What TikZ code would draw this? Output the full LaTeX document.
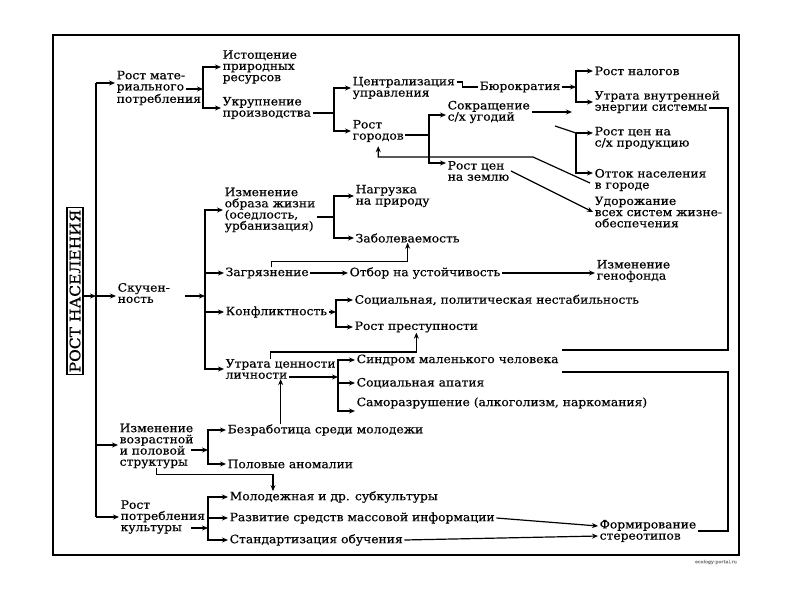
\documentclass[tikz,border=0pt]{standalone}
\usepackage{fontspec}
\setmainfont{DejaVu Serif}[FakeStretch=1.07,FakeBold=0.5]
\usetikzlibrary{arrows.meta,calc}
\begin{document}
\begin{tikzpicture}[x=1pt,y=-1pt,
  t/.style={anchor=west,align=left,inner xsep=1.5pt,inner ysep=0pt,font=\fontsize{11.5}{11.2}\selectfont},
  ln/.style={line width=1.2pt},
  arr/.style={ln,-{Stealth[length=6pt,width=5pt]}},
]
\useasboundingbox (0,0) rectangle (800,600);
\draw[ln] (53,35) rectangle (739,555);

% nodes
\node[draw,rotate=90,line width=1.2pt,inner xsep=2pt,inner ysep=2.5pt,font=\fontsize{14.5}{15}\selectfont] (rn) at (75,291) {РОСТ НАСЕЛЕНИЯ};
\node[t] (rm) at (115,88) {Рост мате-\\риального\\потребления};
\node[t] (ist) at (221,67) {Истощение\\природных\\ресурсов};
\node[t] (ukr) at (221,108) {Укрупнение\\производства};
\node[t] (cen) at (351,88) {Централизация\\управления};
\node[t] (rg) at (351,131) {Рост\\городов};
\node[t] (bur) at (478,87) {Бюрократия};
\node[t] (nal) at (593,71) {Рост налогов};
\node[t] (utr) at (593,102) {Утрата внутренней\\энергии системы};
\node[t] (sok) at (446,112) {Сокращение\\с/х угодий};
\node[t] (rcz) at (446,171) {Рост цен\\на землю};
\node[t] (rcp) at (593,138) {Рост цен на\\с/х продукцию};
\node[t] (ott) at (593,180) {Отток населения\\в городе};
\node[t] (udo) at (593,212) {Удорожание\\всех систем жизне-\\обеспечения};
\node[t] (sku) at (116,293) {Скучен-\\ность};
\node[t] (iob) at (223,210) {Изменение\\образа жизни\\(оседлость,\\урбанизация)};
\node[t] (nag) at (354,196) {Нагрузка\\на природу};
\node[t] (zab) at (354,238) {Заболеваемость};
\node[t] (zag) at (224,273) {Загрязнение};
\node[t] (otb) at (348,273) {Отбор на устойчивость};
\node[t] (gen) at (595,271) {Изменение\\генофонда};
\node[t] (kon) at (224,312) {Конфликтность};
\node[t] (soc) at (353,300) {Социальная, политическая нестабильность};
\node[t] (pre) at (353,327) {Рост преступности};
\node[t] (utc) at (224,369) {Утрата ценности\\личности};
\node[t] (sin) at (355,360) {Синдром маленького человека};
\node[t] (apa) at (355,383) {Социальная апатия};
\node[t] (sam) at (355,403) {Саморазрушение (алкоголизм, наркомания)};
\node[t] (vz) at (118,446) {Изменение\\возрастной\\и половой\\структуры};
\node[t] (bez) at (226,430) {Безработица среди молодежи};
\node[t] (pol) at (226,464) {Половые аномалии};
\node[t] (rpk) at (119,517) {Рост\\потребления\\культуры};
\node[t] (mol) at (228,497) {Молодежная и др. субкультуры};
\node[t] (raz) at (228,518) {Развитие средств массовой информации};
\node[t] (sta) at (228,540) {Стандартизация обучения};
\node[t] (frm) at (598,531) {Формирование\\стереотипов};
\node[font=\fontsize{4.5}{5}\selectfont,text=gray,inner sep=0pt] (wm) at (716,562) {ecology-portal.ru};

% coordinates
\coordinate (tr1) at (96,83);
\coordinate (tr2) at (96,296);
\coordinate (tr3) at (96,445);
\coordinate (tr4) at (96,517);
\coordinate (rmA) at (186,89);
\coordinate (f1) at (203,89);
\coordinate (f2) at (334,113);
\coordinate (f3) at (576,87);
\coordinate (f4) at (429,135);
\coordinate (d5) at (555,126);
\coordinate (f5) at (576,133);
\coordinate (sokT) at (572,112);
\coordinate (lp1) at (590,183);
\coordinate (lp2) at (533,157);
\coordinate (skA) at (185,296);
\coordinate (f6) at (205,296);
\coordinate (f7) at (334,217);
\coordinate (f8) at (336,312);
\coordinate (utA) at (289,377);
\coordinate (f9) at (338,377);
\coordinate (vzA) at (191,450);
\coordinate (f10) at (208,450);
\coordinate (rpA) at (191,528);
\coordinate (f11) at (208,528);
\coordinate (u1) at (709,108);
\coordinate (rv1) at (728,108);
\coordinate (rv2) at (728,350);
\coordinate (rv3) at (728,372);
\coordinate (s1) at (562,350);
\coordinate (s2) at (562,372);

% trunk
\draw[ln] (tr1) -- (tr4);
\draw[arr] (rn.south |- tr2) -- (tr2);
\draw[arr] (tr1) -- (tr1 -| rm.west);
\draw[arr] (tr2) -- (tr2 -| sku.west);
\draw[arr] (tr3) -- (tr3 -| vz.west);
\draw[arr] (tr4) -- (tr4 -| rpk.west);

% material consumption
\draw[arr] (rmA) -- (f1);
\draw[arr] (f1) |- (ist.west);
\draw[arr] (f1) |- (ukr.west);
\draw[ln] (ukr.east |- f2) -- (f2);
\draw[arr] (f2) |- (cen.west);
\draw[arr] (f2) |- (rg.west);
\draw[ln] ([yshift=6pt]cen.east) -- ++(6,0) |- (bur.west);
\draw[arr] (bur.east) -- (f3);
\draw[arr] (f3) |- (nal.west);
\draw[arr] (f3) |- (utr.west);
\draw[ln] (rg.east |- f4) -- (f4);
\draw[arr] (f4) |- ([yshift=-3pt]sok.west);
\draw[arr] (f4) |- ([yshift=8pt]rcz.west);
\draw[arr] (sok.east) -- (sokT);
\draw[ln] (d5) -- (f5);
\draw[arr] (f5) -- (f5 -| rcp.west);
\draw[arr] (f5) |- ([yshift=7pt]ott.west);
\draw[arr] (rcz.east) -- (udo.west);
\draw[arr,shorten >=4pt] (lp1) -- (lp2) -| (rg.south);

% crowding
\draw[arr] (skA) -- (f6);
\draw[arr] (f6) |- (iob.west);
\draw[arr] (f6) |- (zag.west);
\draw[arr] (f6) |- (kon.west);
\draw[arr] (f6) |- (utc.west);
\draw[ln] (iob.east |- f7) -- (f7);
\draw[arr] (f7) |- (nag.west);
\draw[arr] (f7) |- (zab.west);
\draw[arr] ([xshift=4pt]zag.north) -- ++(0,-6) -| (zab.south);
\draw[arr] (zag.east) -- (otb.west);
\draw[arr] (otb.east) -- (gen.west |- otb.east);
\draw[arr] (kon.east) -- (f8);
\draw[arr] (f8) |- (soc.west);
\draw[arr] (f8) |- (pre.west);
\draw[arr] ([xshift=-10pt]utc.north) -- ++(0,-7) -| (pre.south);
\draw[arr] (utA) -- (f9);
\draw[arr] (f9) |- (sin.west);
\draw[arr] (f9) |- (apa.west);
\draw[arr] (f9) |- ([yshift=-8pt]sam.west);

% age structure
\draw[arr] (vzA) -- (f10);
\draw[arr] (f10) |- (bez.west);
\draw[arr] (f10) |- (pol.west);
\draw[arr] (bez.north -| utc.south) -- (utc.south);
\draw[arr] (vz.south) -- ++(0,6) -| ([xshift=45pt]mol.north west);

% culture
\draw[arr] (rpA) -- (f11);
\draw[arr] (f11) |- (mol.west);
\draw[arr] (f11) |- (raz.west);
\draw[arr] (f11) |- (sta.west);
\draw[arr] (raz.east) -- ([yshift=5pt]frm.west);
\draw[arr] (sta.east) -- ([yshift=-5pt]frm.west);

% long right lines
\draw[ln] (u1) -- (rv1) -- (rv2) -- (s1);
\draw[ln] (s2) -- (rv3) |- (frm.east);
\end{tikzpicture}
\end{document}
